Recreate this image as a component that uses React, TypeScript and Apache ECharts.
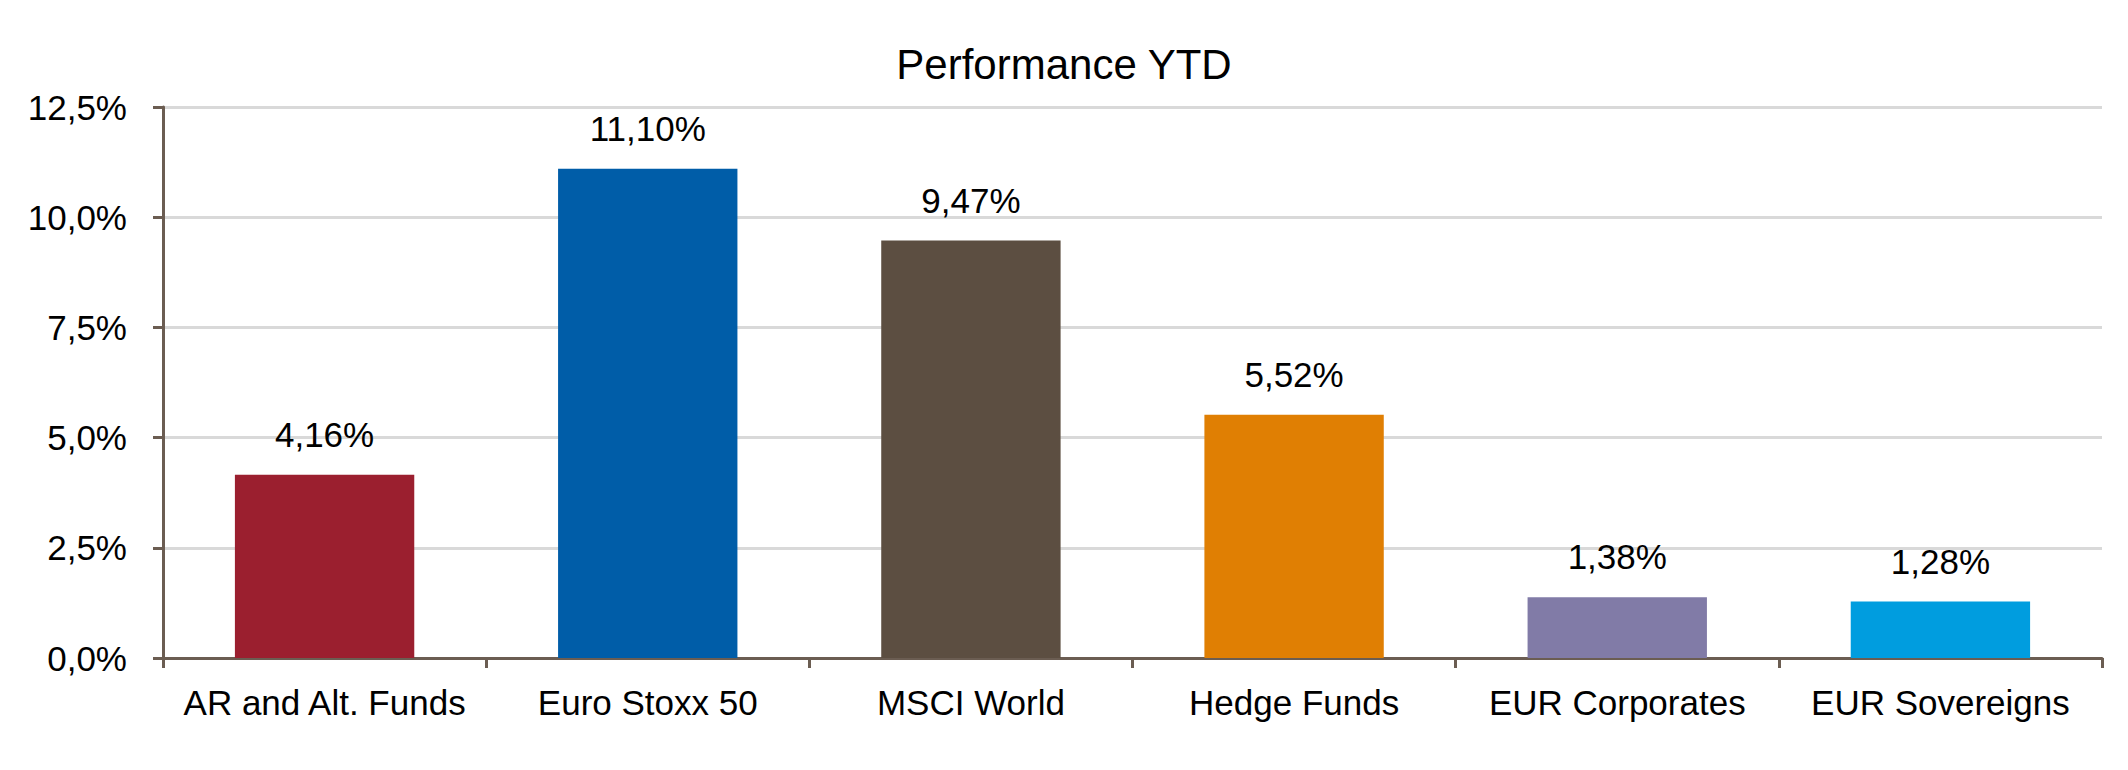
import React, { useEffect, useRef } from "react";
import * as echarts from "echarts";

const categories = [
  "AR and Alt. Funds",
  "Euro Stoxx 50",
  "MSCI World",
  "Hedge Funds",
  "EUR Corporates",
  "EUR Sovereigns",
];
const values = [4.16, 11.1, 9.47, 5.52, 1.38, 1.28];
const palette = ["#9b1f2f", "#005da8", "#5c4e41", "#e07f03", "#817ba7", "#009ddf"];
const yMin = 0;
const yMax = 12.5;
const yStep = 2.5;
const title = "Performance YTD";

const FONT = "'Liberation Sans', Arial, sans-serif";
const AXIS = "#6b5d52";

export default function App() {
  const ref = useRef<HTMLDivElement>(null);
  useEffect(() => {
    if (!ref.current) return;
    const chart = echarts.init(ref.current, null, { renderer: "svg" });
    chart.setOption({
      animation: false,
      backgroundColor: "#ffffff",
      title: {
        text: title,
        left: "center",
        top: 38,
        textStyle: { fontFamily: FONT, fontSize: 42, fontWeight: "normal", color: "#000" },
      },
      grid: { left: 163, right: 26, top: 107, bottom: 112, containLabel: false },
      xAxis: {
        type: "category",
        data: categories,
        axisLine: { lineStyle: { color: AXIS, width: 3 } },
        axisTick: { show: true, interval: 0, length: 10, lineStyle: { color: AXIS, width: 3 } },
        axisLabel: { interval: 0, fontFamily: FONT, fontSize: 35, color: "#000", margin: 27 },
      },
      yAxis: {
        type: "value",
        min: yMin,
        max: yMax,
        interval: yStep,
        axisLine: { show: true, lineStyle: { color: AXIS, width: 3 } },
        axisTick: { show: true, length: 10, lineStyle: { color: AXIS, width: 3 } },
        splitLine: { lineStyle: { color: "#d9d9d9", width: 3 } },
        axisLabel: {
          fontFamily: FONT,
          fontSize: 35,
          color: "#000",
          margin: 36,
          formatter: (v: number) => v.toFixed(1).replace(".", ",") + "%",
        },
      },
      series: [
        {
          type: "bar",
          barWidth: "55.5%",
          data: values.map((v, i) => ({ value: v, itemStyle: { color: palette[i] } })),
          label: {
            show: true,
            position: "top",
            distance: 23,
            fontFamily: FONT,
            fontSize: 35,
            color: "#000",
            formatter: (p: any) => p.value.toFixed(2).replace(".", ",") + "%",
          },
        },
      ],
    });
    return () => chart.dispose();
  }, []);
  return (
    <div
      ref={ref}
      style={{ position: "fixed", left: 0, top: 0, width: 2128, height: 770, background: "#fff" }}
    />
  );
}
